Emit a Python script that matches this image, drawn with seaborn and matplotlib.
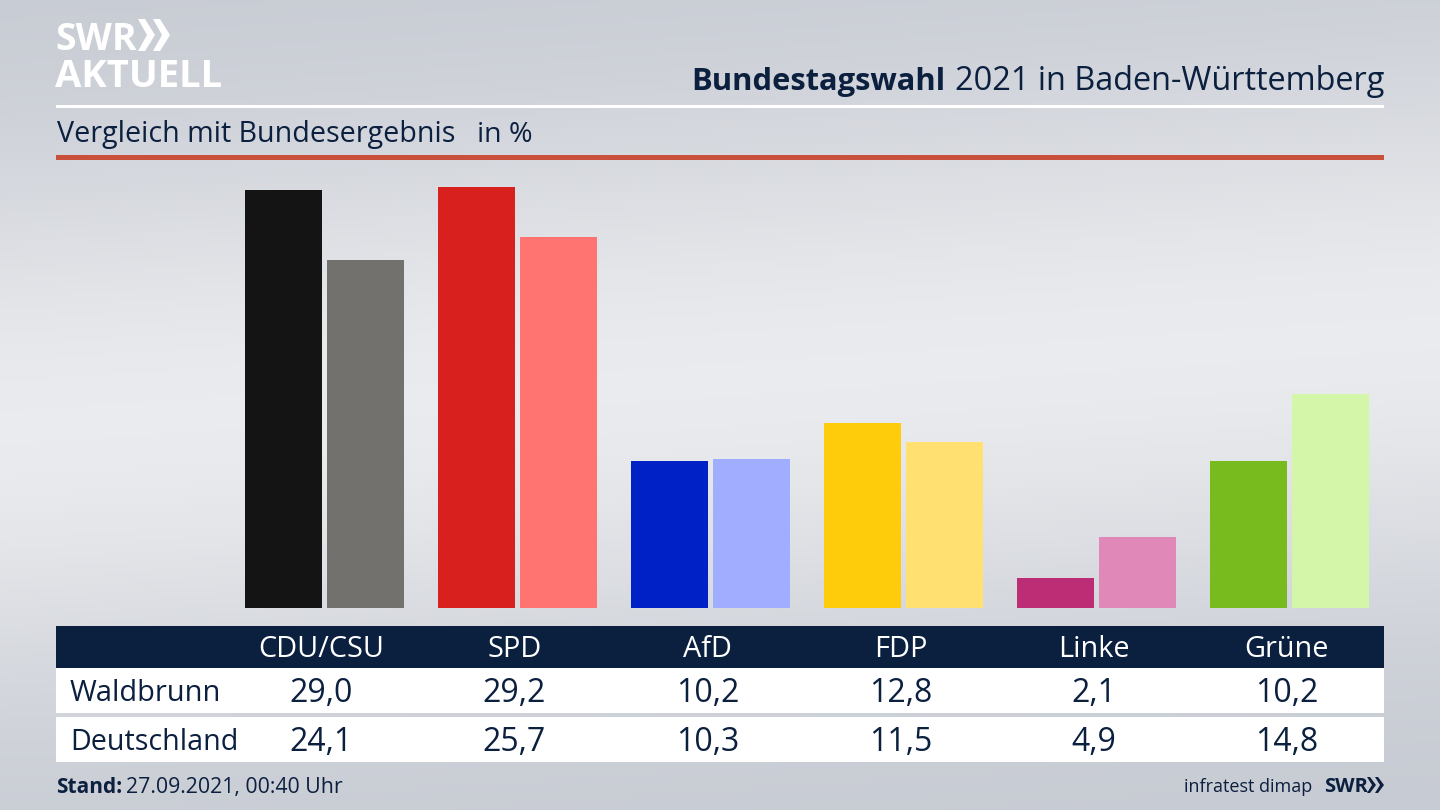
import numpy as np
import pandas as pd
import seaborn as sns
import matplotlib.pyplot as plt
from matplotlib.patches import Rectangle, Polygon

parties = ['CDU/CSU', 'SPD', 'AfD', 'FDP', 'Linke', 'Grüne']
waldbrunn = [29.0, 29.2, 10.2, 12.8, 2.1, 10.2]
deutschland = [24.1, 25.7, 10.3, 11.5, 4.9, 14.8]
colors_wald = ['#141414', '#d8201f', '#0021c6', '#ffcc0b', '#bc2d76', '#78bb1e']
colors_de = ['#72716e', '#ff7370', '#a1aeff', '#ffe070', '#e089b8', '#d3f6a9']

navy = '#0b1f3f'
font = 'Open Sans'

sns.set_theme(style='white')
plt.rcParams['font.family'] = [font, 'DejaVu Sans']

W, H = 1440, 810
fig = plt.figure(figsize=(W / 100, H / 100), dpi=100)

# background, light band through the middle
bg = fig.add_axes([0, 0, 1, 1], zorder=0)
yy, xx = np.mgrid[0:1:200j, 0:1:200j]
band = np.exp(-((yy - 0.47 + 0.12 * (xx - 0.5)) / 0.33) ** 2)
bg.imshow(band, cmap=sns.blend_palette(['#c6cad2', '#eaebee'], as_cmap=True),
          extent=(0, W, H, 0), aspect='auto', vmin=0, vmax=1)
bg.set_xlim(0, W)
bg.set_ylim(H, 0)
bg.axis('off')

# bars
ax = fig.add_axes([56 / W, (H - 608) / H, 1328 / W, 448 / H], zorder=1)
df = pd.DataFrame({'Partei': parties * 2,
                   'Ergebnis': waldbrunn + deutschland,
                   'Gebiet': ['Waldbrunn'] * 6 + ['Deutschland'] * 6})
sns.barplot(data=df, x='Partei', y='Ergebnis', hue='Gebiet', order=parties,
            width=0.85, gap=0.06, saturation=1, legend=False, ax=ax)
for cont, cols in zip(ax.containers, [colors_wald, colors_de]):
    for bar, c in zip(cont, cols):
        bar.set_facecolor(c)
        bar.set_edgecolor('none')
ax.set_xlim(-1.391, 5.49)
ax.set_ylim(0, 31.05)
ax.axis('off')
ax.patch.set_alpha(0)

# everything else in pixel coordinates
ov = fig.add_axes([0, 0, 1, 1], zorder=2)
ov.set_xlim(0, W)
ov.set_ylim(H, 0)
ov.axis('off')
ov.patch.set_alpha(0)

ov.add_patch(Rectangle((56, 105), 1328, 2.5, color='white', lw=0))
ov.add_patch(Rectangle((56, 155), 1328, 5, color='#c9503b', lw=0))
ov.add_patch(Rectangle((56, 626), 1328, 42, color=navy, lw=0))
ov.add_patch(Rectangle((56, 668), 1328, 45, color='white', lw=0))
ov.add_patch(Rectangle((56, 717), 1328, 45, color='white', lw=0))

# logo
ov.text(55, 50, 'SWR', color='white', fontsize=27, fontweight='bold', va='baseline')
ov.text(55, 87, 'AKTUELL', color='white', fontsize=27.5, fontweight='bold', va='baseline')
for x0 in (138, 153):
    ov.add_patch(Polygon([(x0, 19), (x0 + 7, 19), (x0 + 17, 35), (x0 + 7, 51), (x0, 51), (x0 + 9, 35)],
                         color='white', lw=0))

# header
ov.text(1384, 90, '2021 in Baden-Württemberg', color=navy, fontsize=23.4, ha='right', va='baseline')
ov.text(945, 90, 'Bundestagswahl', color=navy, fontsize=22.2, fontweight='bold', ha='right', va='baseline')
ov.text(57, 142, 'Vergleich mit Bundesergebnis', color=navy, fontsize=20.65, va='baseline')
ov.text(477, 142, 'in %', color=navy, fontsize=20.5, va='baseline')

# table
ov.text(70, 701, 'Waldbrunn', color=navy, fontsize=20.9, va='baseline')
ov.text(70, 750, 'Deutschland', color=navy, fontsize=20.6, va='baseline')
for i, p in enumerate(parties):
    x = ax.transData.transform((i, 0))[0]
    ov.text(x - 3, 657, p, color='white', fontsize=20.8, ha='center', va='baseline')
    ov.text(x - 3, 702, f'{waldbrunn[i]:.1f}'.replace('.', ','), color=navy, fontsize=23, ha='center', va='baseline')
    ov.text(x - 3, 751, f'{deutschland[i]:.1f}'.replace('.', ','), color=navy, fontsize=23, ha='center', va='baseline')

# footer
ov.text(56, 793, 'Stand:', color=navy, fontsize=15, fontweight='bold', va='baseline')
ov.text(126, 793, '27.09.2021, 00:40 Uhr', color=navy, fontsize=15.3, va='baseline')
ov.text(1312, 792, 'infratest dimap', color=navy, fontsize=13, ha='right', va='baseline')
ov.text(1324, 792, 'SWR', color=navy, fontsize=14.5, fontweight='bold', va='baseline')
for x0 in (1367, 1375):
    ov.add_patch(Polygon([(x0, 777), (x0 + 3, 777), (x0 + 9, 785), (x0 + 3, 793), (x0, 793), (x0 + 5, 785)],
                         color=navy, lw=0))

fig.savefig('out.png', dpi=100)
